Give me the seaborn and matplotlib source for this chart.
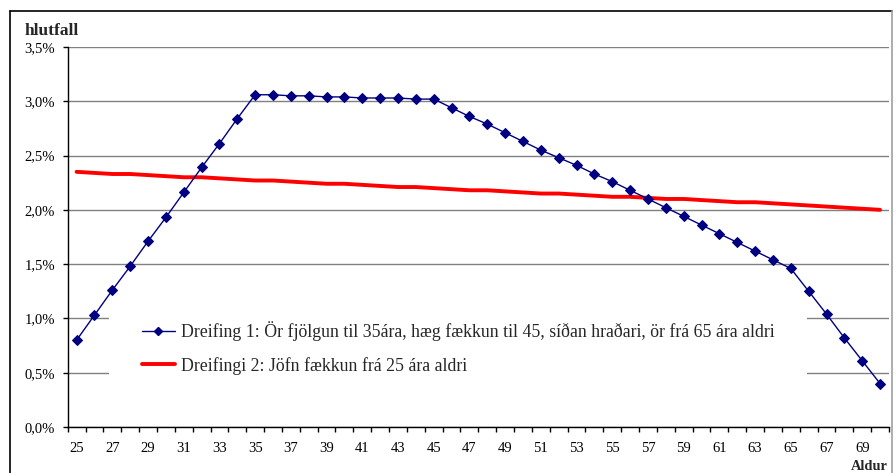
import matplotlib
matplotlib.use("Agg")
import matplotlib.pyplot as plt
import matplotlib.lines as mlines
import seaborn as sns
import pandas as pd
from matplotlib.ticker import FixedLocator, FuncFormatter

# aldur 25..70
ages = list(range(25, 71))

# hlutfall í %
dreifing1 = [0.80, 1.03, 1.26, 1.48, 1.71, 1.93, 2.16, 2.39, 2.61, 2.84,
             3.06, 3.06, 3.05, 3.05, 3.04, 3.04, 3.03, 3.03, 3.03, 3.02,
             3.02, 2.94, 2.86, 2.79, 2.71, 2.63, 2.55, 2.48, 2.41, 2.33,
             2.26, 2.18, 2.10, 2.02, 1.94, 1.86, 1.78, 1.70, 1.62, 1.54,
             1.46, 1.25, 1.04, 0.82, 0.61, 0.40]
dreifing2 = [2.35, 2.34, 2.33, 2.33, 2.32, 2.31, 2.30, 2.30, 2.29, 2.28,
             2.27, 2.27, 2.26, 2.25, 2.24, 2.24, 2.23, 2.22, 2.21, 2.21,
             2.20, 2.19, 2.18, 2.18, 2.17, 2.16, 2.15, 2.15, 2.14, 2.13,
             2.12, 2.12, 2.11, 2.10, 2.10, 2.09, 2.08, 2.07, 2.07, 2.06,
             2.05, 2.04, 2.03, 2.02, 2.01, 2.00]

label1 = "Dreifing 1: Ör fjölgun til 35ára, hæg fækkun til 45, síðan hraðari, ör frá 65 ára aldri"
label2 = "Dreifingi 2: Jöfn fækkun frá 25 ára aldri"

df = pd.DataFrame({'Aldur': ages, 'd1': dreifing1, 'd2': dreifing2})

sns.set_theme(style="white")
plt.rcParams['font.family'] = ['Liberation Serif', 'DejaVu Serif']

fig = plt.figure(figsize=(8.95, 4.73), dpi=100)
ax = fig.add_axes([0.0756, 0.0973, 0.9177, 0.8034])

sns.lineplot(data=df, x='Aldur', y='d2', ax=ax, color='#ff0000', linewidth=2.8, zorder=3)
sns.lineplot(data=df, x='Aldur', y='d1', ax=ax, color='#000080', linewidth=1.0,
             marker='D', markersize=5.5, markeredgecolor='#000080', zorder=4)

ax.set_xlim(24.5, 70.5)
ax.set_ylim(0, 3.5)
ax.set_xlabel('')
ax.set_ylabel('')

ax.xaxis.set_major_locator(FixedLocator(list(range(25, 70, 2))))
ax.xaxis.set_minor_locator(FixedLocator([a - 0.5 for a in ages] + [70.5]))
ax.tick_params(axis='x', which='major', length=0, pad=11, labelsize=10.5, colors='black')
ax.tick_params(axis='x', which='minor', length=3.5, width=1, direction='out', color='black', bottom=True)

ax.yaxis.set_major_locator(FixedLocator([0, 0.5, 1.0, 1.5, 2.0, 2.5, 3.0, 3.5]))
ax.yaxis.set_major_formatter(FuncFormatter(lambda v, p: f"{v:.1f}%".replace('.', ',')))
ax.tick_params(axis='y', which='major', length=3.5, width=1, direction='out', pad=5.5,
               labelsize=10.5, colors='black', left=True)

ax.yaxis.grid(True, color='#808080', linewidth=1)
ax.xaxis.grid(False)
ax.set_axisbelow(True)
for s in ['top', 'right']:
    ax.spines[s].set_visible(False)
for s in ['left', 'bottom']:
    ax.spines[s].set_color('black')
    ax.spines[s].set_linewidth(1)
    ax.spines[s].set_zorder(5)

h1 = mlines.Line2D([], [], color='#000080', linewidth=1.0, marker='D', markersize=4)
h2 = mlines.Line2D([], [], color='#ff0000', linewidth=2.8)
leg = ax.legend([h1, h2], [label1, label2], loc='upper left',
                bbox_to_anchor=(109 / 895, 1 - 288 / 473), bbox_transform=fig.transFigure,
                frameon=True, facecolor='white', edgecolor='none', framealpha=1, fancybox=False,
                fontsize=12.8, borderpad=1.85, handlelength=1.85, handletextpad=0.34,
                labelspacing=0.9, borderaxespad=0)
leg.set_zorder(2.5)

fig.text(25 / 895, 1 - 35 / 473, 'hlutfall', fontsize=12.5, fontweight='bold', va='baseline', ha='left')
fig.text(851 / 895, 1 - 470 / 473, 'Aldur', fontsize=10.4, fontweight='bold', va='baseline', ha='left')

# rammi utan um myndina
fig.add_artist(mlines.Line2D([10 / 895, 10 / 895], [0, 1 - 11 / 473], color='black', linewidth=1.2))
fig.add_artist(mlines.Line2D([10 / 895, 892 / 895], [1 - 11 / 473, 1 - 11 / 473], color='black', linewidth=1.2))
fig.add_artist(mlines.Line2D([892 / 895, 892 / 895], [0, 1 - 11 / 473], color='#a0a0a0', linewidth=1.2))

fig.savefig('out.png', dpi=100)
